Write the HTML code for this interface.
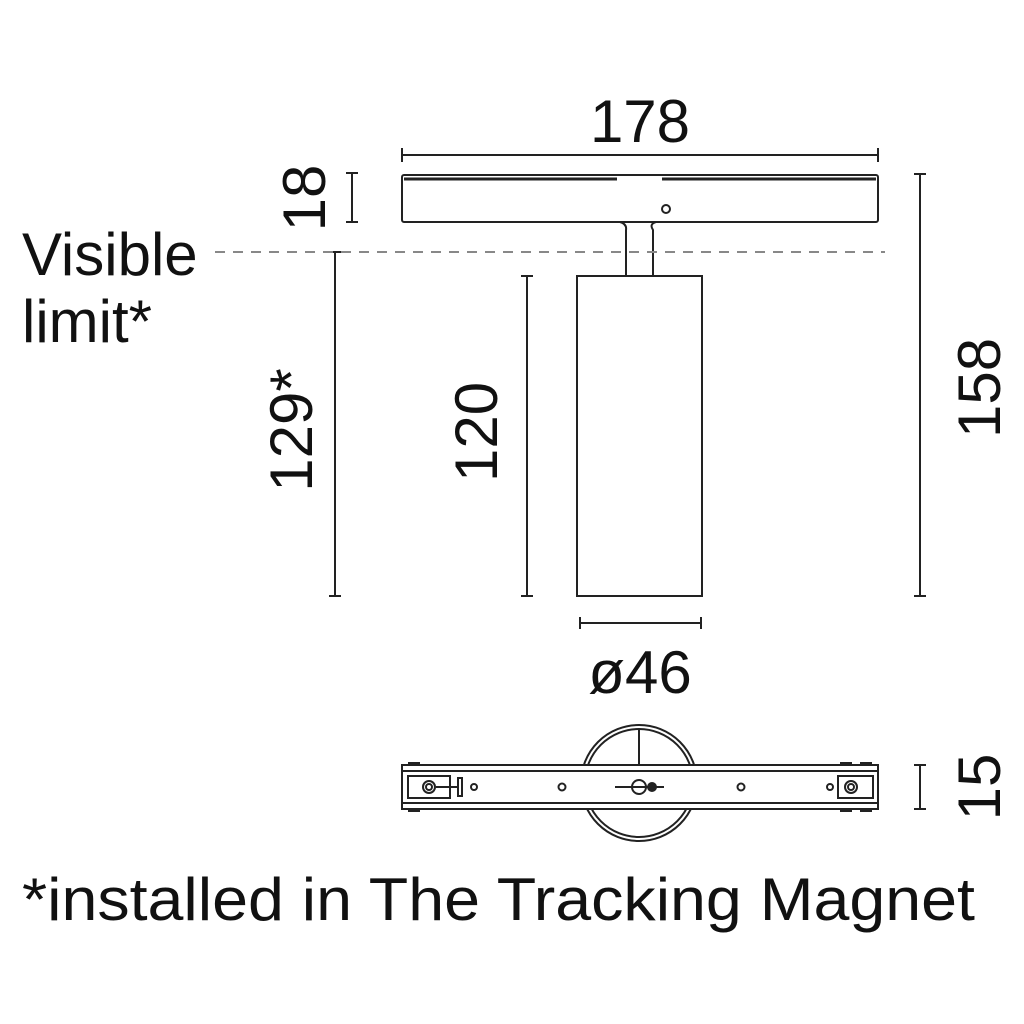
<!DOCTYPE html>
<html><head><meta charset="utf-8"><style>
html,body{margin:0;padding:0;background:#fff;}
svg{display:block;}
text{font-family:"Liberation Sans",sans-serif;fill:#111;}
</style></head><body>
<svg width="1024" height="1024" viewBox="0 0 1024 1024" xmlns="http://www.w3.org/2000/svg">
<g stroke="#222" stroke-width="2" fill="none">
<!-- 178 dim -->
<line x1="402" y1="155" x2="878" y2="155"/>
<line x1="402" y1="148" x2="402" y2="162"/><line x1="878" y1="148" x2="878" y2="162"/>
<!-- 18 dim -->
<line x1="352" y1="173" x2="352" y2="222"/>
<line x1="346" y1="173" x2="358" y2="173"/><line x1="346" y1="222" x2="358" y2="222"/>
<!-- 129 dim -->
<line x1="335" y1="252" x2="335" y2="596"/>
<line x1="329" y1="252" x2="341" y2="252"/><line x1="329" y1="596" x2="341" y2="596"/>
<!-- 120 dim -->
<line x1="527" y1="276" x2="527" y2="596"/>
<line x1="521" y1="276" x2="533" y2="276"/><line x1="521" y1="596" x2="533" y2="596"/>
<!-- 158 dim -->
<line x1="920" y1="174" x2="920" y2="596"/>
<line x1="914" y1="174" x2="926" y2="174"/><line x1="914" y1="596" x2="926" y2="596"/>
<!-- 46 dim -->
<line x1="580" y1="623" x2="701" y2="623"/>
<line x1="580" y1="617" x2="580" y2="629"/><line x1="701" y1="617" x2="701" y2="629"/>
<!-- 15 dim -->
<line x1="920" y1="765" x2="920" y2="809"/>
<line x1="914" y1="765" x2="926" y2="765"/><line x1="914" y1="809" x2="926" y2="809"/>

<!-- top track -->
<rect x="402" y="175" width="476" height="47" rx="2"/>
<line x1="404" y1="179" x2="617" y2="179" stroke-width="3"/>
<line x1="662" y1="179" x2="876" y2="179" stroke-width="3"/>
<circle cx="666" cy="209" r="4"/>
<path d="M620 222 Q627 224 626 230 L626 276 M656 222 Q649 224 653 230 L653 276"/>
<!-- cylinder -->
<rect x="577" y="276" width="125" height="320"/>

<!-- bottom view -->
<circle cx="639" cy="783" r="58"/>
<circle cx="639" cy="783" r="54"/>
<line x1="639" y1="730" x2="639" y2="765"/>
<rect x="402" y="765" width="476" height="44" fill="#fff"/>
<line x1="402" y1="771" x2="878" y2="771"/>
<line x1="402" y1="803" x2="878" y2="803"/>
<rect x="408" y="776" width="42" height="22"/>
<circle cx="429" cy="787" r="6"/><circle cx="429" cy="787" r="3"/>
<path d="M436 787 L458 787 M458 778 L462 778 L462 796 L458 796 Z"/>
<circle cx="474" cy="787" r="3"/>
<circle cx="562" cy="787" r="3.5"/>
<line x1="615" y1="787" x2="664" y2="787"/>
<circle cx="639" cy="787" r="7"/>
<circle cx="652" cy="787" r="4" fill="#222"/>
<circle cx="741" cy="787" r="3.5"/>
<circle cx="830" cy="787" r="3"/>
<rect x="838" y="776" width="35" height="22"/>
<circle cx="851" cy="787" r="6"/><circle cx="851" cy="787" r="3"/>
<line x1="408" y1="763" x2="420" y2="763"/><line x1="408" y1="811" x2="420" y2="811"/>
<line x1="840" y1="763" x2="852" y2="763"/><line x1="860" y1="763" x2="872" y2="763"/>
<line x1="840" y1="811" x2="852" y2="811"/><line x1="860" y1="811" x2="872" y2="811"/>
</g>
<!-- dashed visible limit -->
<line x1="215" y1="252" x2="885" y2="252" stroke="#888" stroke-width="2" stroke-dasharray="10 8"/>

<g font-size="60">
<text x="640" y="142" text-anchor="middle">178</text>
<text x="22" y="275">Visible</text>
<text x="22" y="342">limit*</text>
<text x="640" y="693" text-anchor="middle">ø46</text>
<text x="22" y="920" textLength="953" lengthAdjust="spacingAndGlyphs">*installed in The Tracking Magnet</text>
<text transform="translate(325,198) rotate(-90)" text-anchor="middle">18</text>
<text transform="translate(312,430) rotate(-90)" text-anchor="middle">129*</text>
<text transform="translate(497,432) rotate(-90)" text-anchor="middle">120</text>
<text transform="translate(1000,388) rotate(-90)" text-anchor="middle">158</text>
<text transform="translate(1000,787) rotate(-90)" text-anchor="middle">15</text>
</g>
</svg>
</body></html>
